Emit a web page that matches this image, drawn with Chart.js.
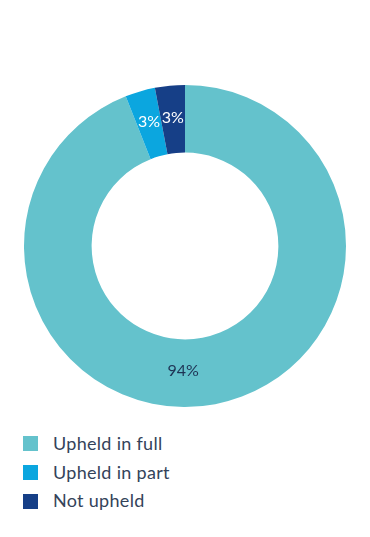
<!DOCTYPE html>
<html>
<head>
<meta charset="utf-8">
<script src="https://cdn.jsdelivr.net/npm/chart.js@4/dist/chart.umd.min.js"></script>
<style>
  html, body { margin: 0; padding: 0; background: #fff; }
  body { width: 370px; height: 537px; position: relative; overflow: hidden; font-family: "Lato", "Open Sans", sans-serif; }
  #wrap { position: absolute; left: 0; top: 0; width: 370px; height: 420px; }
  #legend { position: absolute; left: 23px; top: 429.5px; }
  .item { display: flex; align-items: center; height: 28.7px; }
  .sw { width: 15px; height: 15px; margin-right: 15px; }
  .lbl { font-size: 18px; font-weight: 400; color: #34435a; letter-spacing: 0.3px; position: relative; top: -1px; }
</style>
</head>
<body>
<div id="wrap"><canvas id="c" width="370" height="420"></canvas></div>
<div id="legend"></div>
<script>
const categories = ["Upheld in full", "Upheld in part", "Not upheld"];
const values = [94, 3, 3];
const valueLabels = ["94%", "3%", "3%"];
const colors = ["#64C2CC", "#0BA6DF", "#163F87"];
const labelColors = ["#1E3354", "#FFFFFF", "#FFFFFF"];

const legend = document.getElementById('legend');
categories.forEach((c, i) => {
  const d = document.createElement('div');
  d.className = 'item';
  d.innerHTML = '<div class="sw" style="background:' + colors[i] + '"></div><div class="lbl">' + c + '</div>';
  legend.appendChild(d);
});

const labelPlugin = {
  id: 'arcLabels',
  afterDatasetsDraw(chart) {
    const ctx = chart.ctx;
    const meta = chart.getDatasetMeta(0);
    ctx.save();
    ctx.font = '16px "Lato", "Open Sans", sans-serif';
    ctx.textAlign = 'center';
    ctx.textBaseline = 'middle';
    meta.data.forEach((arc, i) => {
      const p = arc.getProps(['x', 'y', 'startAngle', 'endAngle', 'innerRadius', 'outerRadius'], true);
      let ang = (p.startAngle + p.endAngle) / 2;
      let r = (p.innerRadius + p.outerRadius) / 2 - 2;
      if (i === 0) ang = Math.PI / 2 + 0.015;
      else r = (p.innerRadius + p.outerRadius) / 2 + 2;
      const x = p.x + Math.cos(ang) * r;
      const y = p.y + Math.sin(ang) * r;
      ctx.fillStyle = labelColors[i];
      ctx.fillText(valueLabels[i], x, y);
    });
    ctx.restore();
  }
};

new Chart(document.getElementById('c'), {
  type: 'doughnut',
  data: {
    labels: categories,
    datasets: [{ data: values, backgroundColor: colors, borderWidth: 0 }]
  },
  options: {
    responsive: false,
    animation: false,
    cutout: '58%',
    layout: { padding: { top: 85, bottom: 13, left: 0, right: 0 } },
    plugins: { legend: { display: false }, tooltip: { enabled: false } }
  },
  plugins: [labelPlugin]
});
</script>
</body>
</html>
